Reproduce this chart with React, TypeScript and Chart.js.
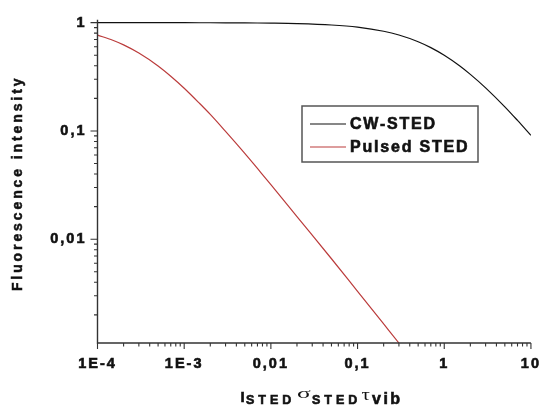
import React, { useEffect, useRef } from 'react';
import { Chart, registerables } from 'chart.js';

Chart.register(...registerables);

// ---- data ----
const cwX = [1e-4, 1.5e-4, 2e-4, 3e-4, 5e-4, 7e-4, 1e-3, 1.5e-3, 2e-3, 3e-3, 5e-3, 7e-3, 0.01, 0.02, 0.05, 0.1, 0.2, 0.3, 0.5, 0.7, 1, 1.5, 2, 3, 5, 7, 10];
const cwSted = [1, 1, 1, 1, 0.9995, 0.9993, 0.999, 0.9985, 0.998, 0.997, 0.995, 0.993, 0.99, 0.98, 0.952, 0.909, 0.833, 0.769, 0.667, 0.588, 0.5, 0.4, 0.333, 0.25, 0.167, 0.125, 0.091];
const pulsedX = [1e-4, 1.5e-4, 2e-4, 3e-4, 5e-4, 7e-4, 1e-3, 1.5e-3, 2e-3, 3e-3, 5e-3, 7e-3, 0.01, 0.02, 0.05, 0.1, 0.2, 0.3, 0.35];
const pulsedSted = [0.767, 0.688, 0.623, 0.524, 0.398, 0.32, 0.248, 0.18, 0.142, 0.099, 0.062, 0.045, 0.032, 0.0162, 0.0066, 0.0033, 0.00165, 0.0011, 0.00094];

const seriesLabels = ['CW-STED', 'Pulsed STED'];
const seriesColors = ['#111111', '#bb3c3c'];

const xTickValues = [1e-4, 1e-3, 0.01, 0.1, 1, 10];
const xTickLabels = ['1E-4', '1E-3', '0,01', '0,1', '1', '10'];
const yTickValues = [0.01, 0.1, 1];
const yTickLabels = ['0,01', '0,1', '1'];
const minorMultipliers = [2, 3, 4, 5, 6, 7, 8, 9];

const yTitle = 'Fluorescence intensity';

const FONT = '"Liberation Sans", Arial, sans-serif';
const SERIF = '"Liberation Serif", "DejaVu Serif", serif';

function heavyText(ctx: CanvasRenderingContext2D, text: string, x: number, y: number, w = 0.6) {
  ctx.lineWidth = w;
  ctx.strokeStyle = ctx.fillStyle as string;
  ctx.strokeText(text, x, y);
  ctx.fillText(text, x, y);
}

const decorPlugin = {
  id: 'decor',
  beforeDraw(chart: any) {
    chart.ctx.letterSpacing = '2px';
  },
  afterDraw(chart: any) {
    const ctx = chart.ctx as CanvasRenderingContext2D;
    const xs = chart.scales.x;
    const ys = chart.scales.y;
    const a = chart.chartArea;
    ctx.save();
    (ctx as any).letterSpacing = '0px';
    ctx.strokeStyle = '#333';
    ctx.lineWidth = 1.4;
    // axes lines
    ctx.beginPath();
    ctx.moveTo(a.left, a.top);
    ctx.lineTo(a.left, a.bottom);
    ctx.lineTo(a.right, a.bottom);
    ctx.stroke();
    // x ticks
    ctx.lineWidth = 1.1;
    ctx.beginPath();
    xTickValues.forEach((v) => {
      const px = xs.getPixelForValue(v);
      ctx.moveTo(px, a.bottom);
      ctx.lineTo(px, a.bottom + 6);
      if (v < 10) {
        minorMultipliers.forEach((m) => {
          const mp = xs.getPixelForValue(v * m);
          ctx.moveTo(mp, a.bottom);
          ctx.lineTo(mp, a.bottom + 3.5);
        });
      }
    });
    // y ticks
    [0.001, 0.01, 0.1, 1].forEach((v) => {
      if (v >= ys.min && v <= ys.max) {
        const py = ys.getPixelForValue(v);
        ctx.moveTo(a.left, py);
        ctx.lineTo(a.left - 7, py);
      }
      minorMultipliers.forEach((m) => {
        const val = v * m;
        if (val >= ys.min && val <= ys.max) {
          const mp = ys.getPixelForValue(val);
          ctx.moveTo(a.left, mp);
          ctx.lineTo(a.left - 3.5, mp);
        }
      });
    });
    ctx.stroke();

    // y title
    ctx.fillStyle = '#111';
    ctx.save();
    ctx.translate(18, (a.top + a.bottom) / 2 + 2);
    ctx.rotate(-Math.PI / 2);
    ctx.font = `bold 14px ${FONT}`;
    (ctx as any).letterSpacing = '2.9px';
    ctx.textAlign = 'center';
    ctx.textBaseline = 'middle';
    heavyText(ctx, yTitle, 0, 0, 0.5);
    ctx.restore();

    // x title: I_STED sigma_STED tau_vib
    ctx.fillStyle = '#111';
    ctx.textAlign = 'left';
    ctx.textBaseline = 'alphabetic';
    ctx.font = `bold 15px ${FONT}`;
    (ctx as any).letterSpacing = '0px';
    heavyText(ctx, 'I', 240.5, 401.5);
    ctx.font = `bold 12.5px ${FONT}`;
    (ctx as any).letterSpacing = '4px';
    heavyText(ctx, 'STED', 246, 404);
    ctx.save();
    (ctx as any).letterSpacing = '0px';
    ctx.font = `15px ${SERIF}`;
    ctx.translate(297, 398);
    ctx.scale(1.7, 1);
    ctx.fillText('σ', 0, 0);
    ctx.restore();
    ctx.font = `bold 12.5px ${FONT}`;
    (ctx as any).letterSpacing = '4px';
    heavyText(ctx, 'STED', 312, 404);
    ctx.save();
    (ctx as any).letterSpacing = '0px';
    ctx.font = `16px ${SERIF}`;
    ctx.translate(361.5, 399.5);
    ctx.scale(1.3, 1);
    ctx.fillText('τ', 0, 0);
    ctx.restore();
    ctx.font = `bold 16px ${FONT}`;
    (ctx as any).letterSpacing = '2.5px';
    heavyText(ctx, 'vib', 372, 403.5);

    // legend box
    (ctx as any).letterSpacing = '0px';
    ctx.strokeStyle = '#555';
    ctx.lineWidth = 1.5;
    ctx.strokeRect(302, 106, 176, 56);
    const rows = [124, 147];
    chart.data.datasets.forEach((ds: any, i: number) => {
      ctx.strokeStyle = ds.borderColor;
      ctx.lineWidth = 1.2;
      ctx.beginPath();
      ctx.moveTo(310, rows[i]);
      ctx.lineTo(346, rows[i]);
      ctx.stroke();
      ctx.fillStyle = '#111';
      ctx.font = `bold 16px ${FONT}`;
      (ctx as any).letterSpacing = '1.8px';
      ctx.textBaseline = 'middle';
      heavyText(ctx, ds.label, 350, rows[i] + 0.5);
    });
    ctx.restore();
  },
};

export default function App() {
  const ref = useRef<HTMLCanvasElement>(null);
  useEffect(() => {
    if (!ref.current) return;
    const chart = new Chart(ref.current, {
      type: 'line',
      data: {
        datasets: [
          {
            label: seriesLabels[0],
            data: cwX.map((x, i) => ({ x, y: cwSted[i] })),
            borderColor: seriesColors[0],
            borderWidth: 1.2,
            cubicInterpolationMode: 'monotone',
            pointRadius: 0,
            fill: false,
          },
          {
            label: seriesLabels[1],
            data: pulsedX.map((x, i) => ({ x, y: pulsedSted[i] })),
            borderColor: seriesColors[1],
            borderWidth: 1.2,
            cubicInterpolationMode: 'monotone',
            pointRadius: 0,
            fill: false,
          },
        ],
      },
      options: {
        responsive: false,
        animation: false,
        layout: { padding: { top: 13, right: 10, left: 0, bottom: 0 } },
        plugins: { legend: { display: false }, tooltip: { enabled: false } },
        scales: {
          x: {
            type: 'logarithmic',
            position: 'bottom',
            min: 1e-4,
            max: 10,
            grid: { display: false, drawTicks: false },
            border: { display: false },
            afterBuildTicks: (s: any) => {
              s.ticks = xTickValues.map((v) => ({ value: v }));
            },
            afterFit: (s: any) => {
              s.height = 69;
            },
            ticks: {
              autoSkip: false,
              maxRotation: 0,
              minRotation: 0,
              padding: 12,
              color: '#111',
              textStrokeColor: '#111',
              textStrokeWidth: 0.6,
              font: { family: FONT, size: 14.5, weight: 'bold' },
              callback: (_v: any, i: number) => xTickLabels[i],
            },
          },
          y: {
            type: 'logarithmic',
            min: 0.0011,
            max: 1.065,
            grid: { display: false, drawTicks: false },
            border: { display: false },
            afterBuildTicks: (s: any) => {
              s.ticks = yTickValues.map((v) => ({ value: v }));
            },
            afterFit: (s: any) => {
              s.width = 97.5;
            },
            ticks: {
              autoSkip: false,
              padding: 11,
              color: '#111',
              textStrokeColor: '#111',
              textStrokeWidth: 0.6,
              font: { family: FONT, size: 14.5, weight: 'bold' },
              callback: (_v: any, i: number) => yTickLabels[i],
            },
          },
        },
      } as any,
      plugins: [decorPlugin],
    });
    return () => chart.destroy();
  }, []);
  return (
    <div style={{ position: 'fixed', left: 0, top: 0, width: 551, height: 412, background: '#fff' }}>
      <canvas ref={ref} width={551} height={412} />
    </div>
  );
}
